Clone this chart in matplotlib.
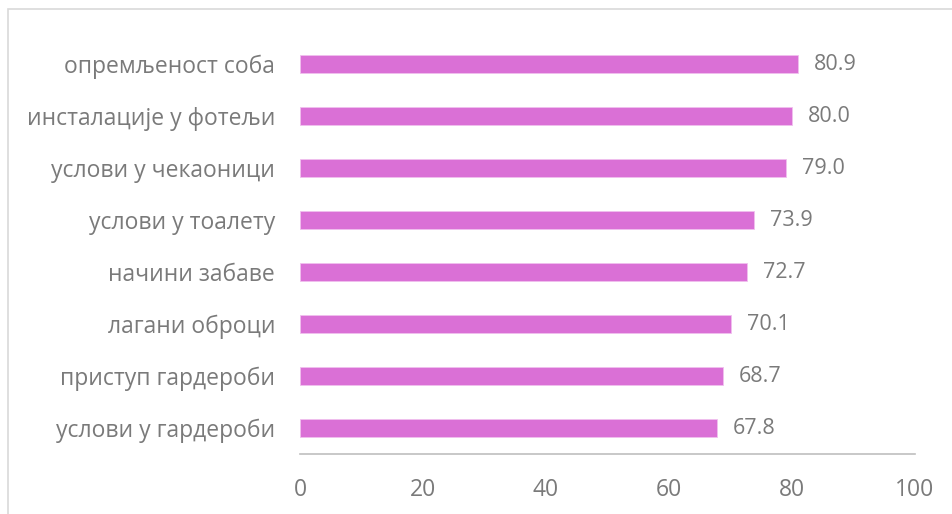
import matplotlib.pyplot as plt
from matplotlib.patches import Rectangle

categories = ['опремљеност соба', 'инсталације у фотељи', 'услови у чекаоници',
              'услови у тоалету', 'начини забаве', 'лагани оброци',
              'приступ гардероби', 'услови у гардероби']
values = [80.9, 80.0, 79.0, 73.9, 72.7, 70.1, 68.7, 67.8]
xticks = [0, 20, 40, 60, 80, 100]

W, H = 952, 514
fig = plt.figure(figsize=(W / 100, H / 100), dpi=100)
plt.rcParams['font.family'] = ['Open Sans', 'DejaVu Sans']

# axes: x=0 at px 300, x=100 at px 915; bands from y=38 to y=454
ax = fig.add_axes([300 / W, 1 - 454 / H, 615 / W, (454 - 38) / H])

txt = '#7a7a7a'
ypos = list(range(len(categories)))[::-1]
ax.barh(ypos, values, height=0.35, color='#da70d6', edgecolor='#f0c0ee', linewidth=0.6)
for y, v in zip(ypos, values):
    ax.text(v + 2.6, y, '%.1f' % v, va='center', ha='left', fontsize=15.5, color=txt)

ax.set_xlim(0, 100)
ax.set_ylim(-0.5, len(categories) - 0.5)
ax.set_yticks(ypos)
ax.set_yticklabels(categories, fontsize=16.5, color=txt)
ax.set_xticks(xticks)
ax.set_xticklabels([str(t) for t in xticks], fontsize=16.5, color=txt)
ax.tick_params(axis='both', length=0)
ax.tick_params(axis='y', pad=18)
ax.tick_params(axis='x', pad=17)
for s in ['top', 'right', 'left']:
    ax.spines[s].set_visible(False)
ax.spines['bottom'].set_color('#bfbfbf')
ax.spines['bottom'].set_linewidth(1.2)

# outer chart border, cropped at right and bottom
fig.patches.append(Rectangle((8 / W, -0.1), 1.2, 1 - 9 / H + 0.1, transform=fig.transFigure,
                             fill=False, edgecolor='#d9d9d9', linewidth=1.2))

fig.savefig('out.png', dpi=100)
